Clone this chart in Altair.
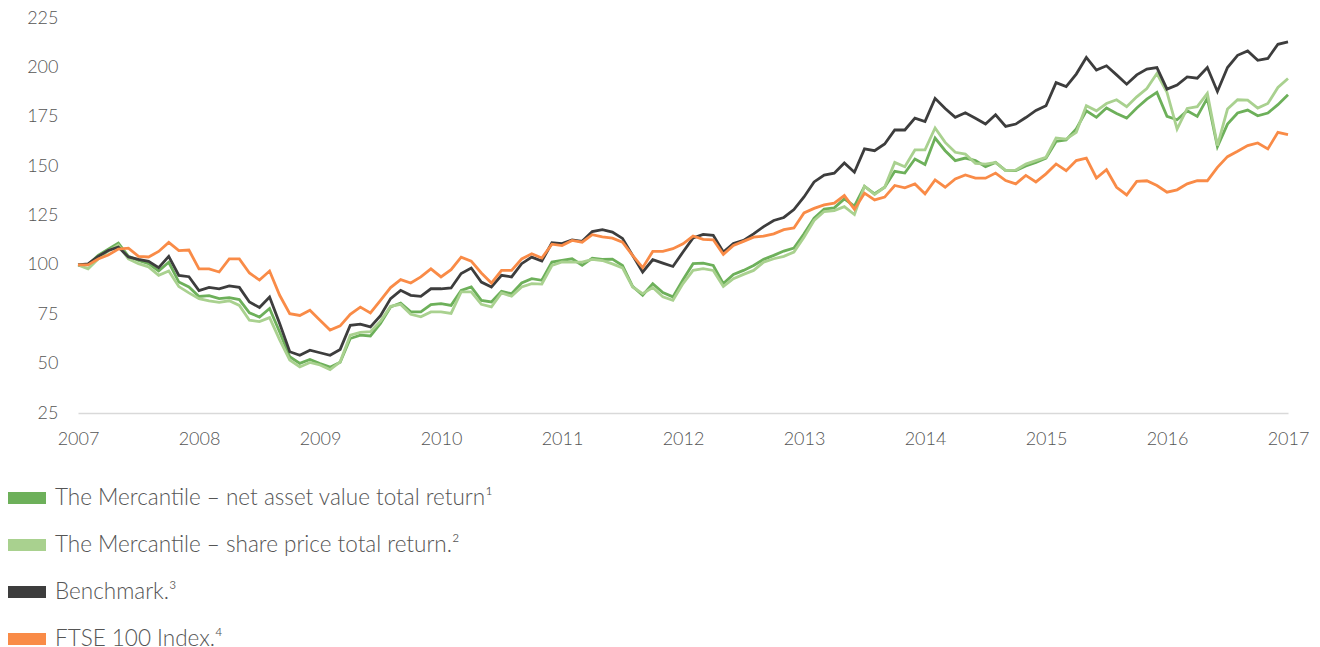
import altair as alt
import pandas as pd

years = list(range(2007, 2018))
y_ticks = [25, 50, 75, 100, 125, 150, 175, 200, 225]

series_names = [
    "The Mercantile – net asset value total return¹",
    "The Mercantile – share price total return.²",
    "Benchmark.³",
    "FTSE 100 Index.⁴",
]
colors = ["#6db05a", "#a9d18f", "#3d3d3d", "#f98b47"]

# monthly values, Jan 2007 .. Jan 2017 (rebased to 100)
nav = [100, 100, 104.8, 108, 111, 104.3, 102.3, 100.6, 96.9, 101.3, 91.3, 88.8,
       84, 84.4, 82.9, 83.4, 82.4, 75.7, 73.6, 77.9, 66, 53.5, 50.1, 52.1,
       50, 48.2, 50.7, 62.7, 64.4, 64, 70.4, 78.7, 80.7, 76.2, 76.2, 79.9,
       80.4, 79.5, 87.1, 88.8, 82, 81.2, 86.6, 85.4, 90.8, 93, 92.2, 101.4,
       102.3, 103.1, 99.8, 103.4, 102.8, 102.9, 99.7, 89.1, 84.6, 90.5, 86, 83.8,
       92.5, 100.6, 100.9, 99.7, 90.5, 95.2, 97.2, 99.7, 102.8, 104.8, 107, 108.5,
       115.7, 123.6, 128.2, 128.9, 133.4, 129.7, 139.8, 136, 139.3, 147.4, 146.5, 153.6,
       150.8, 164.2, 157.8, 152.8, 154.1, 152.8, 149.7, 151.9, 147.7, 147.7, 150.1, 151.9,
       154, 162.5, 163.2, 168.8, 178, 174.7, 179.4, 176.7, 174.3, 179.4, 183.9, 187.3,
       175.2, 173.5, 178, 175.2, 184.4, 159.8, 171.3, 176.9, 178.4, 175.5, 176.9, 181.1,
       186.1]
share = [100, 98, 103, 107, 110, 103, 100.6, 99, 94.7, 96.9, 89, 85.8,
         82.9, 81.8, 81, 81.8, 79.5, 72, 71.3, 73.3, 62, 51.8, 48.3, 50.6,
         49.3, 47, 50.9, 64.4, 65.8, 66.2, 71.5, 79, 80, 75, 73.7, 76.2,
         76.2, 75.4, 86.3, 86.3, 80, 78.7, 85.8, 84.1, 88.8, 90.5, 90.3, 99.7,
         101.5, 101.4, 101.4, 102.8, 102.2, 100.5, 98.5, 88.8, 85.4, 88.5, 83.8, 82.1,
         90.5, 97.2, 98.1, 97.2, 89.1, 93, 95.2, 97.2, 101.4, 103.1, 104.3, 106.5,
         114, 122.5, 127, 127.5, 129.5, 125.5, 139.8, 135.6, 139.3, 151.9, 149.7, 158.2,
         158.2, 169.3, 162, 157, 156.1, 151.4, 151, 151.9, 147.7, 148, 151, 152.8,
         154.5, 164.2, 163.7, 167.1, 180.6, 178, 181.7, 183.6, 180.1, 185.1, 189.3, 196.9,
         187.3, 168.8, 179.2, 180.1, 186.8, 160.4, 178.9, 183.6, 183.4, 179.4, 181.7, 189.8,
         194.4]
bench = [100, 100.5, 104.3, 107.3, 109, 104, 102.8, 101.8, 98.6, 104.3, 94.7, 94,
         87, 88.6, 87.9, 89.4, 88.6, 81.2, 78.4, 83.7, 70.3, 56, 54.2, 56.8,
         55.5, 54.2, 57.2, 69.4, 70, 68.6, 74.3, 82.9, 87.1, 84.6, 84.1, 87.9,
         87.9, 88.3, 95.6, 98.4, 91.3, 88.8, 94.7, 93.9, 100.6, 103.9, 101.9, 111.2,
         110.8, 112.6, 111.9, 116.9, 117.8, 116.6, 113.4, 104.8, 96.4, 102.6, 100.9, 99.2,
         106.5, 113.7, 115.4, 115, 106.5, 110.8, 112.4, 115.7, 119.4, 122.5, 124, 128,
         134.4, 142, 145.5, 146.4, 151.6, 146.9, 158.7, 157.8, 161.2, 168.3, 168.3, 174.3,
         172.6, 184.3, 179.2, 174.7, 177, 174.2, 171.3, 176, 170.1, 171.3, 174.6, 178.2,
         180.6, 192.3, 190.3, 196.6, 205, 198.6, 200.8, 196.2, 191.5, 196.2, 199.1, 199.9,
         189, 191, 195.2, 194.5, 199.9, 187.8, 199.9, 206.1, 208.3, 203.6, 204.5, 211.7,
         212.9]
ftse = [100, 100, 103, 105, 108, 108.5, 104.3, 104, 106.8, 111.4, 107.2, 107.5,
        98, 98, 96.4, 103, 103, 95.9, 92.3, 96.9, 84.6, 75.3, 74.4, 77,
        72, 67, 69.1, 75, 78.6, 75.7, 82, 88.5, 92.5, 90.8, 93.9, 98,
        93.9, 97.6, 103.9, 101.9, 95.9, 90.8, 97.2, 97.2, 103, 105.6, 103.5, 110.5,
        109.8, 112.4, 111.5, 115.3, 114.2, 113.5, 111.5, 104.8, 98.6, 106.8, 106.8, 108.2,
        110.7, 114.6, 112.9, 112.7, 105.3, 109.8, 111.9, 114, 114.6, 115.7, 117.8, 118.7,
        126.3, 128.6, 130.4, 131.3, 135.1, 128.2, 136.3, 132.9, 134.3, 140.2, 139, 141,
        136, 143, 139.3, 143.5, 145.5, 143.9, 143.9, 146.5, 142.7, 141, 145.3, 142,
        146.1, 151.1, 147.7, 152.8, 154.1, 144, 148.2, 139.3, 135.4, 142.3, 142.6, 140.2,
        136.8, 138, 141, 142.6, 142.6, 149.4, 154.8, 157.5, 160.4, 161.7, 158.7, 167.1,
        165.9]

rows = []
for order, (name, vals) in enumerate(zip(series_names, [nav, share, bench, ftse])):
    for i, v in enumerate(vals):
        rows.append({"t": years[0] + i / 12, "v": v, "s": name, "o": order})
df = pd.DataFrame(rows)

FONT = "Lato"

chart = alt.Chart(df).mark_line(strokeWidth=2.8).encode(
    x=alt.X("t:Q", scale=alt.Scale(domain=[years[0], years[-1]], nice=False, zero=False),
            axis=alt.Axis(values=years, format="d", title=None, grid=False, ticks=False,
                          domain=True, domainColor="#d9d9d9", domainWidth=1.5,
                          labelPadding=17, labelFontSize=18, labelColor="#555555",
                          labelFont=FONT, labelFontWeight=300, labelFlush=False)),
    y=alt.Y("v:Q", scale=alt.Scale(domain=[25, 225], nice=False, zero=False),
            axis=alt.Axis(values=y_ticks, title=None, grid=False, ticks=False, domain=False,
                          labelPadding=20, labelFontSize=18, labelColor="#555555",
                          labelFont=FONT, labelFontWeight=300)),
    color=alt.Color("s:N", scale=alt.Scale(domain=series_names, range=colors),
                    sort=series_names,
                    legend=alt.Legend(orient="none", legendX=-76, legendY=461,
                                      direction="vertical", title=None,
                                      symbolType="stroke", symbolSize=1444,
                                      symbolStrokeWidth=12, symbolOpacity=1,
                                      clipHeight=38, rowPadding=9, labelOffset=3, padding=0,
                                      labelFont=FONT, labelFontWeight=300,
                                      labelFontSize=22.5, labelColor="#555555",
                                      labelLimit=0)),
    detail="s:N",
    order=alt.Order("o:Q"),
).properties(
    width=1210, height=395,
    autosize=alt.AutoSizeParams(type="none"),
    padding={"left": 70, "top": 10, "right": 22, "bottom": 244},
).configure_view(stroke=None)

chart.save("out.html", embed_options={"renderer": "svg", "actions": False})
